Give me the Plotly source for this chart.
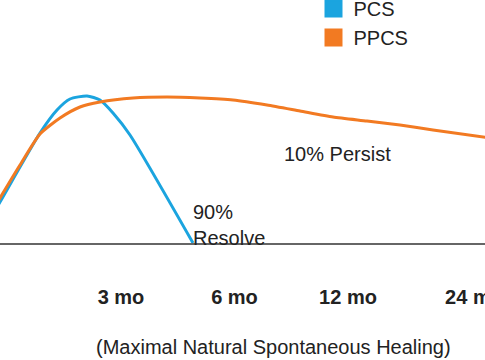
import plotly.graph_objects as go

# time axis (arbitrary position units) and relative severity values
pcs_x = [-10, 0, 40, 57, 70, 87, 100, 113, 130, 193]
pcs_y = [24, 41, 110, 133, 144, 147, 143, 130, 108, 0]

ppcs_x = [-10, 0, 20, 40, 60, 80, 100, 133, 167, 200, 233, 267, 300, 333, 367, 400, 433, 490]
ppcs_y = [28, 45, 78, 109, 125, 136, 141, 145, 146, 145, 143, 138, 132, 126, 122, 118, 113, 105]

tick_pos = [121, 234.5, 348, 474]
tick_labels = ["3 mo", "6 mo", "12 mo", "24 mo"]

BLUE = "#1ba4df"
ORANGE = "#f27a22"
FONT = "Liberation Sans, Arial, sans-serif"
FS = 20

fig = go.Figure()
fig.add_trace(go.Scatter(x=pcs_x, y=pcs_y, mode="lines", line=dict(color=BLUE, width=3, shape="spline", smoothing=0.6),
                         showlegend=False, hoverinfo="skip"))
fig.add_trace(go.Scatter(x=ppcs_x, y=ppcs_y, mode="lines", line=dict(color=ORANGE, width=3, shape="spline", smoothing=0.6),
                         showlegend=False, hoverinfo="skip"))
fig.add_trace(go.Scatter(x=[None], y=[None], mode="markers", name="PCS",
                         marker=dict(symbol="square", size=16, color=BLUE, line=dict(color=BLUE, width=2))))
fig.add_trace(go.Scatter(x=[None], y=[None], mode="markers", name="PPCS",
                         marker=dict(symbol="square", size=16, color=ORANGE, line=dict(color=ORANGE, width=2))))

fig.add_annotation(x=282, y=243 - 154, xref="x", yref="y", text="10% Persist", showarrow=False,
                   xanchor="left", yanchor="middle", font=dict(size=FS, color="#222", family=FONT))
fig.add_annotation(x=191, y=243 - 225, xref="x", yref="y", text="90%<br>Resolve", showarrow=False,
                   xanchor="left", yanchor="middle", align="left", font=dict(size=FS, color="#222", family=FONT))
fig.add_annotation(x=273, y=-(347 - 243) / 243, xref="x", yref="paper", text="(Maximal Natural Spontaneous Healing)",
                   showarrow=False, xanchor="center", yanchor="middle", font=dict(size=FS, color="#222", family=FONT))

fig.update_layout(
    width=485, height=360,
    margin=dict(l=0, r=0, t=0, b=117, autoexpand=False),
    paper_bgcolor="white", plot_bgcolor="white",
    font=dict(family=FONT, size=FS, color="#222"),
    legend=dict(x=313.5 / 485, y=1 + 11 / 243, xanchor="left", yanchor="top", yref="paper",
                font=dict(size=FS, color="#222"), bgcolor="rgba(0,0,0,0)", tracegroupgap=0),
)
fig.update_xaxes(range=[0, 485], showgrid=False, zeroline=False, showline=True, linecolor="#666", linewidth=1.5,
                 tickvals=tick_pos, ticktext=["<b>%s</b>" % t for t in tick_labels], ticks="",
                 ticklabelstandoff=35, ticklabeloverflow="allow", automargin=False,
                 tickfont=dict(size=FS, color="#222"))
fig.update_yaxes(range=[0, 243], showgrid=False, zeroline=False, showline=False, showticklabels=False,
                 automargin=False)

fig.write_html("out.html", config={"displayModeBar": False},
               post_script="document.body.style.margin='0';document.body.style.overflow='hidden';")
